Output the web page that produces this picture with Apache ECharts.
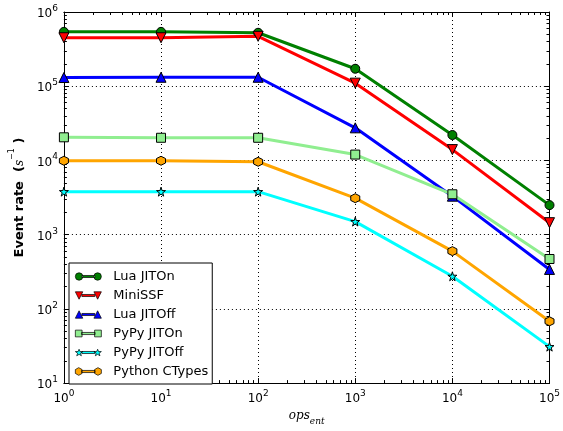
<!DOCTYPE html>
<html lang="en" style="height:100%">
<head>
    <meta charset="UTF-8">
    <title>Event rate vs ops_ent</title>
    <script src="https://cdn.jsdelivr.net/npm/echarts@6/dist/echarts.min.js"></script>
</head>
<body style="height:100%;margin:0">
<div id="main" style="width:563px;height:431px;"></div>
<script type="text/javascript">
    // x positions (ops_ent)
    var opsEnt = [1, 10, 100, 1000, 10000, 100000];
    // event rates per implementation
    var luaJitOn     = [5.4e5, 5.4e5, 5.25e5, 1.72e5, 2.2e4, 2.5e3];
    var miniSSF      = [4.5e5, 4.5e5, 4.7e5, 1.1e5, 1.4e4, 1.45e3];
    var luaJitOff    = [1.31e5, 1.32e5, 1.32e5, 2.75e4, 3.3e3, 3.4e2];
    var pypyJitOn    = [2.05e4, 2.02e4, 2.02e4, 1.2e4, 3.5e3, 4.7e2];
    var pypyJitOff   = [3.8e3, 3.8e3, 3.8e3, 1.5e3, 2.75e2, 31];
    var pythonCTypes = [9.9e3, 9.9e3, 9.6e3, 3.1e3, 6.0e2, 68];
    var seriesNames  = ['Lua JITOn', 'MiniSSF', 'Lua JITOff', 'PyPy JITOn', 'PyPy JITOff', 'Python CTypes'];
    var seriesColors = ['#008000', '#ff0000', '#0000ff', '#90ee90', '#00ffff', '#ffa500'];
    // minor tick values (2..9 of each decade)
    var xMinor = [];
    var yMinor = [];
    for (var d = 1; d < 1e5; d *= 10) for (var k = 2; k < 10; k++) xMinor.push(k * d);
    for (var d2 = 10; d2 < 1e6; d2 *= 10) for (var k2 = 2; k2 < 10; k2++) yMinor.push(k2 * d2);

    var FONT = 'DejaVu Sans';
    var STAR = 'path://M50,0 L61,35 L98,35 L68,57 L79,91 L50,70 L21,91 L32,57 L2,35 L39,35 Z';
    var HEX = 'path://M50,0 L93,25 L93,75 L50,100 L7,75 L7,25 Z';

    function pairs(ys) {
        return opsEnt.map(function (x, i) { return [x, ys[i]]; });
    }
    function powLabel(v) {
        var e = Math.round(Math.log(v) / Math.LN10);
        return '{b|10}{s|' + e + '}';
    }
    var powRich = {
        b: {fontFamily: FONT, fontSize: 12, color: '#000', lineHeight: 16, verticalAlign: 'bottom'},
        s: {fontFamily: FONT, fontSize: 9, color: '#000', lineHeight: 16, verticalAlign: 'top'}
    };

    function mkSeries(i, data, symbol, size, rotate) {
        var color = seriesColors[i];
        return {
            name: seriesNames[i],
            type: 'line',
            data: pairs(data),
            symbol: symbol,
            symbolSize: size,
            symbolRotate: rotate || 0,
            showAllSymbol: true,
            lineStyle: {color: color, width: 3},
            itemStyle: {color: color, borderColor: '#000', borderWidth: 1},
            emphasis: {disabled: true},
            z: 3
        };
    }

    // legend icons: marker - line - marker
    var BAR = ' M7,2.9 L21,2.9 L21,5.1 L7,5.1 Z';
    function icon(kind) {
        if (kind === 'circle') return 'path://M0,4 A4,4 0 1,0 8,4 A4,4 0 1,0 0,4 Z' + BAR + ' M20,4 A4,4 0 1,0 28,4 A4,4 0 1,0 20,4 Z';
        if (kind === 'tri') return 'path://M4,0 L8,8 L0,8 Z' + BAR + ' M24,0 L28,8 L20,8 Z';
        if (kind === 'itri') return 'path://M0,0 L8,0 L4,8 Z' + BAR + ' M20,0 L28,0 L24,8 Z';
        if (kind === 'rect') return 'path://M0.5,0.5 L7.5,0.5 L7.5,7.5 L0.5,7.5 Z' + BAR + ' M20.5,0.5 L27.5,0.5 L27.5,7.5 L20.5,7.5 Z';
        if (kind === 'star') return 'path://M4,0.5 L5,3 L8,3 L5.6,4.8 L6.5,7.5 L4,6 L1.5,7.5 L2.4,4.8 L0,3 L3,3 Z' + BAR + ' M24,0.5 L25,3 L28,3 L25.6,4.8 L26.5,7.5 L24,6 L21.5,7.5 L22.4,4.8 L20,3 L23,3 Z';
        return 'path://M4,0 L7.5,2 L7.5,6 L4,8 L0.5,6 L0.5,2 Z' + BAR + ' M24,0 L27.5,2 L27.5,6 L24,8 L20.5,6 L20.5,2 Z';
    }
    var iconKinds = ['circle', 'itri', 'tri', 'rect', 'star', 'hex'];
    var legendData = seriesNames.map(function (n, i) {
        return {
            name: n,
            icon: icon(iconKinds[i]),
            itemStyle: {color: seriesColors[i], borderColor: '#000', borderWidth: 0.7},
            lineStyle: {width: 0, opacity: 0}
        };
    });

    var majorTick = {show: true, inside: true, length: 5, lineStyle: {color: '#000'}};
    var lineStyleBlack = {show: true, lineStyle: {color: '#000', width: 1}};

    function minorAxis(pos, minV, maxV, vals) {
        return {
            type: 'log', logBase: 10, min: minV, max: maxV, position: pos,
            axisLine: {show: false},
            axisTick: {show: true, inside: true, length: 3, customValues: vals, lineStyle: {color: '#000'}},
            axisLabel: {show: false},
            splitLine: {show: false}
        };
    }
    function majorAxisPlain(pos, minV, maxV) {
        return {
            type: 'log', logBase: 10, min: minV, max: maxV, position: pos,
            axisLine: lineStyleBlack,
            axisTick: majorTick,
            axisLabel: {show: false},
            splitLine: {show: false}
        };
    }

    var myChart = echarts.init(document.getElementById('main'));
    var option = {
        animation: false,
        backgroundColor: '#fff',
        textStyle: {fontFamily: FONT},
        grid: {left: 61, right: 12, top: 12, bottom: 40},
        legend: {
            orient: 'vertical',
            left: 69, top: 263,
            padding: [7, 4, 6, 6],
            borderColor: '#000', borderWidth: 1,
            backgroundColor: '#fff',
            itemWidth: 26, itemHeight: 8, itemGap: 6,
            textStyle: {fontFamily: FONT, fontSize: 13, color: '#000', padding: [0, 0, 0, 7]},
            data: legendData
        },
        xAxis: [
            {
                type: 'log', logBase: 10, min: 1, max: 100000, position: 'bottom',
                name: '{i|ops}{sub|ent}',
                nameLocation: 'middle', nameGap: 22,
                nameTextStyle: {
                    rich: {
                        i: {fontFamily: 'DejaVu Serif', fontStyle: 'italic', fontSize: 12, color: '#000', lineHeight: 16, verticalAlign: 'top'},
                        sub: {fontFamily: 'DejaVu Serif', fontStyle: 'italic', fontSize: 9, color: '#000', lineHeight: 16, verticalAlign: 'bottom'}
                    }
                },
                axisLine: lineStyleBlack,
                axisTick: majorTick,
                axisLabel: {formatter: powLabel, rich: powRich, margin: 6, showMinLabel: true, showMaxLabel: true},
                splitLine: {show: true, lineStyle: {color: '#000', type: [1, 3], width: 1}}
            },
            minorAxis('bottom', 1, 100000, xMinor),
            majorAxisPlain('top', 1, 100000),
            minorAxis('top', 1, 100000, xMinor)
        ],
        yAxis: [
            {
                type: 'log', logBase: 10, min: 10, max: 1000000, position: 'left',
                name: '{b|Event rate  (}{i|s}{s|−1}{b| )}',
                nameLocation: 'middle', nameGap: 32, nameRotate: 90,
                nameTextStyle: {
                    rich: {
                        b: {fontFamily: FONT, fontWeight: 'bold', fontSize: 13, color: '#000', lineHeight: 18, verticalAlign: 'bottom'},
                        i: {fontFamily: 'DejaVu Serif', fontStyle: 'italic', fontSize: 12, color: '#000', lineHeight: 18, verticalAlign: 'bottom'},
                        s: {fontFamily: FONT, fontSize: 8, color: '#000', lineHeight: 18, verticalAlign: 'top'}
                    }
                },
                axisLine: lineStyleBlack,
                axisTick: majorTick,
                axisLabel: {formatter: powLabel, rich: powRich, margin: 6, showMinLabel: true, showMaxLabel: true},
                splitLine: {show: true, lineStyle: {color: '#000', type: [1, 3], width: 1}}
            },
            minorAxis('left', 10, 1000000, yMinor),
            majorAxisPlain('right', 10, 1000000),
            minorAxis('right', 10, 1000000, yMinor)
        ],
        series: [
            mkSeries(0, luaJitOn, 'circle', 9),
            mkSeries(1, miniSSF, 'triangle', 10, 180),
            mkSeries(2, luaJitOff, 'triangle', 10),
            mkSeries(3, pypyJitOn, 'rect', 9),
            mkSeries(4, pypyJitOff, STAR, 9),
            mkSeries(5, pythonCTypes, HEX, 9)
        ]
    };
    myChart.setOption(option);
</script>
</body>
</html>
